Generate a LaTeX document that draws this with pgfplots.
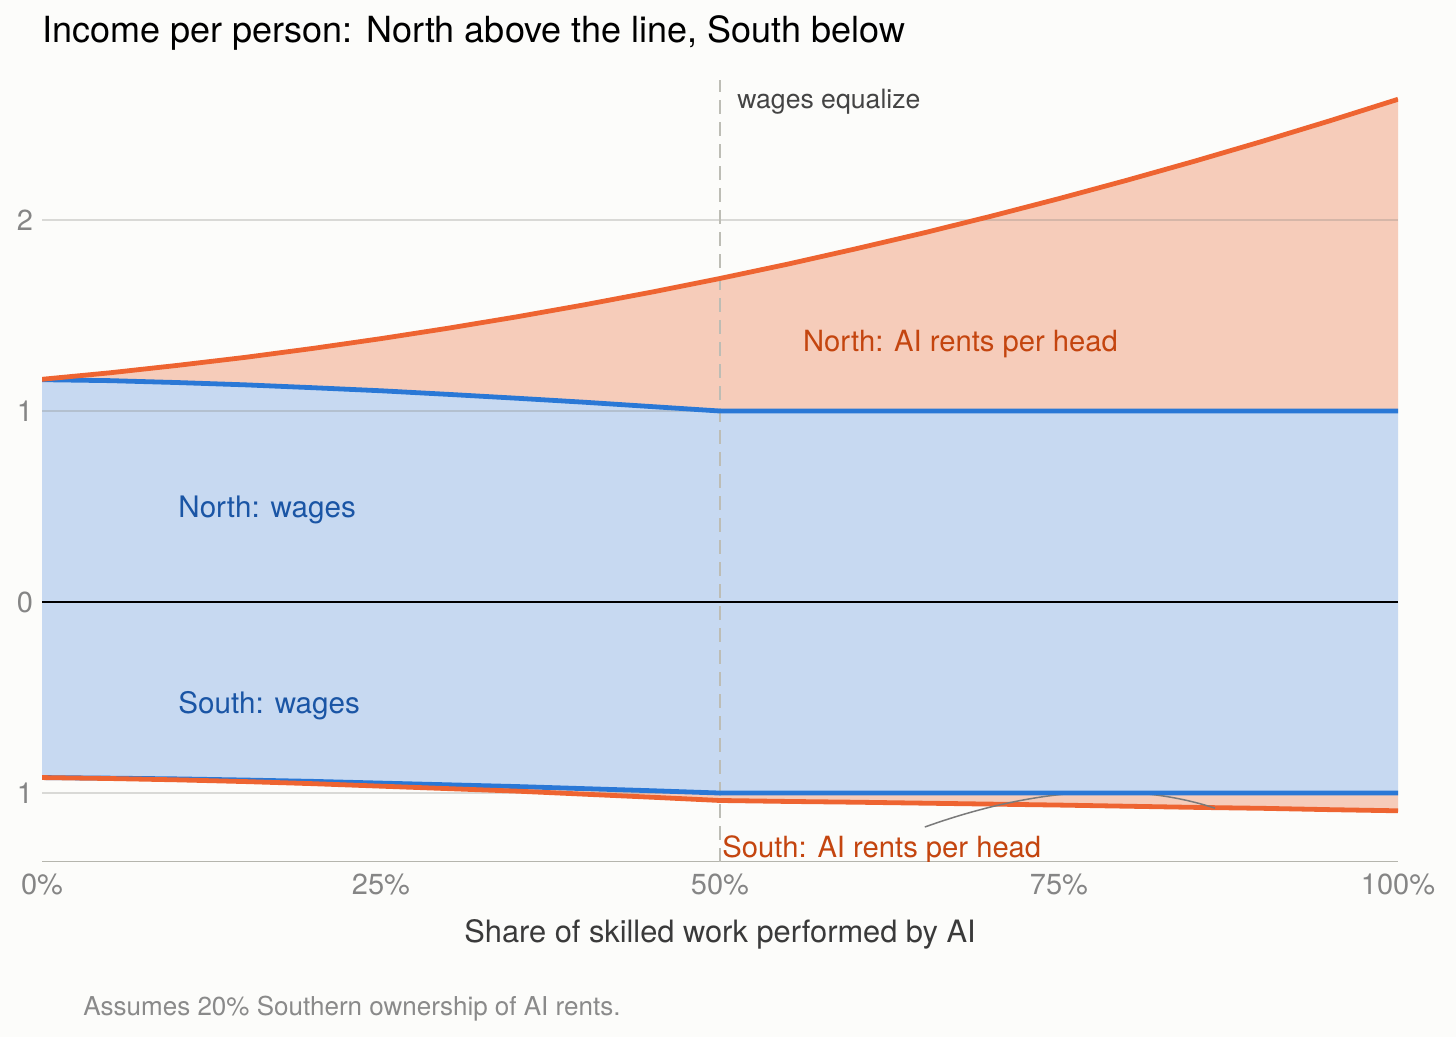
\documentclass[border=0pt]{standalone}
\usepackage{xcolor}
\usepackage{pgfplots}
\pgfplotsset{compat=1.18}
\usepackage{pgfplotstable}
\usepgfplotslibrary{fillbetween}
\usepackage{fontspec}
\setmainfont{TeX Gyre Heros}

\definecolor{bg}{HTML}{FCFCFA}
\definecolor{lineblue}{HTML}{2A78D6}
\definecolor{lineorange}{HTML}{EE6431}
\definecolor{fillblue}{HTML}{C7D9F1}
\definecolor{fillorange}{HTML}{F6CCBA}
\definecolor{txtblue}{HTML}{1A55A5}
\definecolor{txtorange}{HTML}{C4450F}
\definecolor{tickgray}{HTML}{858585}
\definecolor{gridc}{HTML}{80807A}
\definecolor{axisgray}{HTML}{B5B5AD}
\definecolor{dashgray}{HTML}{BDBDB5}
\definecolor{conngray}{HTML}{7A7A7A}
\definecolor{labgray}{HTML}{3A3A3A}
\definecolor{notegray}{HTML}{8A8A8A}
\definecolor{anngray}{HTML}{444444}
\pagecolor{bg}

\pgfplotstableread{
x    nt    nw    sw     st
0.00 1.166 1.164 -0.919 -0.919
0.05 1.200 1.159 -0.922 -0.924
0.10 1.239 1.149 -0.926 -0.931
0.15 1.281 1.137 -0.932 -0.940
0.20 1.328 1.122 -0.939 -0.951
0.25 1.379 1.106 -0.948 -0.964
0.30 1.434 1.087 -0.957 -0.977
0.35 1.493 1.067 -0.966 -0.990
0.40 1.556 1.046 -0.977 -1.006
0.45 1.623 1.023 -0.988 -1.022
0.50 1.694 1.000 -1.000 -1.039
0.55 1.769 1.000 -1.000 -1.044
0.60 1.849 1.000 -1.000 -1.048
0.65 1.932 1.000 -1.000 -1.053
0.70 2.020 1.000 -1.000 -1.058
0.75 2.112 1.000 -1.000 -1.063
0.80 2.208 1.000 -1.000 -1.069
0.85 2.308 1.000 -1.000 -1.075
0.90 2.412 1.000 -1.000 -1.080
0.95 2.520 1.000 -1.000 -1.087
1.00 2.632 1.000 -1.000 -1.093
}\incomedata

\begin{document}
\begin{tikzpicture}
\path (0,0) rectangle (728bp,518.5bp);
\begin{axis}[
  at={(21bp,87.5bp)}, anchor=south west,
  width=678bp, height=391bp, scale only axis,
  xmin=0, xmax=1, ymin=-1.361, ymax=2.733,
  axis line style={draw=none},
  major tick length=0pt,
  xtick style={draw=none}, ytick style={draw=none},
  xtick={0,0.25,0.5,0.75,1},
  xticklabels={0\%,25\%,50\%,75\%,100\%},
  ytick={-1,0,1,2},
  yticklabels={1,0,1,2},
  xticklabel style={anchor=base, inner sep=0pt, yshift=-16.5bp,
     font=\fontsize{14.5bp}{16bp}\selectfont, text=tickgray},
  yticklabel style={anchor=east, inner sep=0pt, xshift=-4.25bp,
     font=\fontsize{14.5bp}{16bp}\selectfont, text=tickgray},
  /pgf/number format/assume math mode=true,
  clip=true,
]
% gridlines
\draw[gridc, opacity=0.28, line width=0.75bp] (axis cs:0,1) -- (axis cs:1,1);
\draw[gridc, opacity=0.28, line width=0.75bp] (axis cs:0,2) -- (axis cs:1,2);
\draw[gridc, opacity=0.28, line width=0.75bp] (axis cs:0,-1) -- (axis cs:1,-1);
% bottom axis line
\draw[axisgray, line width=0.8bp] (rel axis cs:0,0) -- (rel axis cs:1,0);
% zero line
\draw[black, line width=0.9bp] (axis cs:0,0) -- (axis cs:1,0);
% dashed line
\draw[dashgray, line width=1bp, dash pattern=on 7bp off 4bp] (axis cs:0.5,-1.361) -- (axis cs:0.5,2.733);

\addplot[name path=zero, draw=none, forget plot] coordinates {(0,0) (1,0)};
% North wages and total
\addplot[name path=nw, lineblue, line width=2.4bp, line join=round] table[x=x, y=nw] {\incomedata};
\addplot[name path=nt, lineorange, line width=2.4bp, line join=round] table[x=x, y=nt] {\incomedata};
% South wages and total
\addplot[name path=sw, lineblue, line width=2.4bp, line join=round] table[x=x, y=sw] {\incomedata};
\addplot[name path=st, lineorange, line width=2.4bp, line join=round] table[x=x, y=st] {\incomedata};
% connector
\draw[conngray, line width=0.75bp] (axis cs:0.651,-1.178) .. controls (axis cs:0.732,-0.972) and (axis cs:0.804,-0.939) .. (axis cs:0.865,-1.079);
\addplot[lineblue, line width=2.4bp, restrict x to domain=0.5:1] table[x=x, y=sw] {\incomedata};

% fills (placed on the pre main layer, beneath the lines)
\addplot[fill=fillblue, draw=none] fill between[of=nw and zero];
\addplot[fill=fillorange, draw=none] fill between[of=nt and nw];
\addplot[fill=fillblue, draw=none] fill between[of=zero and sw];
\addplot[fill=fillorange, draw=none] fill between[of=sw and st];

% labels
\node[anchor=base west, inner sep=0pt, font=\fontsize{14.6bp}{16bp}\selectfont, text=txtorange] at (axis cs:0.561,1.314) {North: AI rents per head};
\node[anchor=base west, inner sep=0pt, font=\fontsize{14.8bp}{16bp}\selectfont, text=txtblue] at (axis cs:0.1003,0.445) {North: wages};
\node[anchor=base west, inner sep=0pt, font=\fontsize{14.8bp}{16bp}\selectfont, text=txtblue] at (axis cs:0.1003,-0.586) {South: wages};
\node[anchor=base west, inner sep=0pt, font=\fontsize{14.6bp}{16bp}\selectfont, text=txtorange] at (axis cs:0.5015,-1.335) {South: AI rents per head};
\node[anchor=base west, inner sep=0pt, font=\fontsize{13.3bp}{15bp}\selectfont, text=anngray] at (axis cs:0.5125,2.586) {wages equalize};
\end{axis}
\node[anchor=base west, inner sep=0pt, font=\fontsize{18bp}{20bp}\selectfont, text=black] at (21bp,497bp) {Income per person: North above the line, South below};
\node[anchor=base, inner sep=0pt, font=\fontsize{15.4bp}{17bp}\selectfont, text=labgray] at (360bp,47.2bp) {Share of skilled work performed by AI};
\node[anchor=base west, inner sep=0pt, font=\fontsize{13bp}{15bp}\selectfont, text=notegray] at (41.5bp,11bp) {Assumes 20\% Southern ownership of AI rents.};
\end{tikzpicture}
\end{document}
